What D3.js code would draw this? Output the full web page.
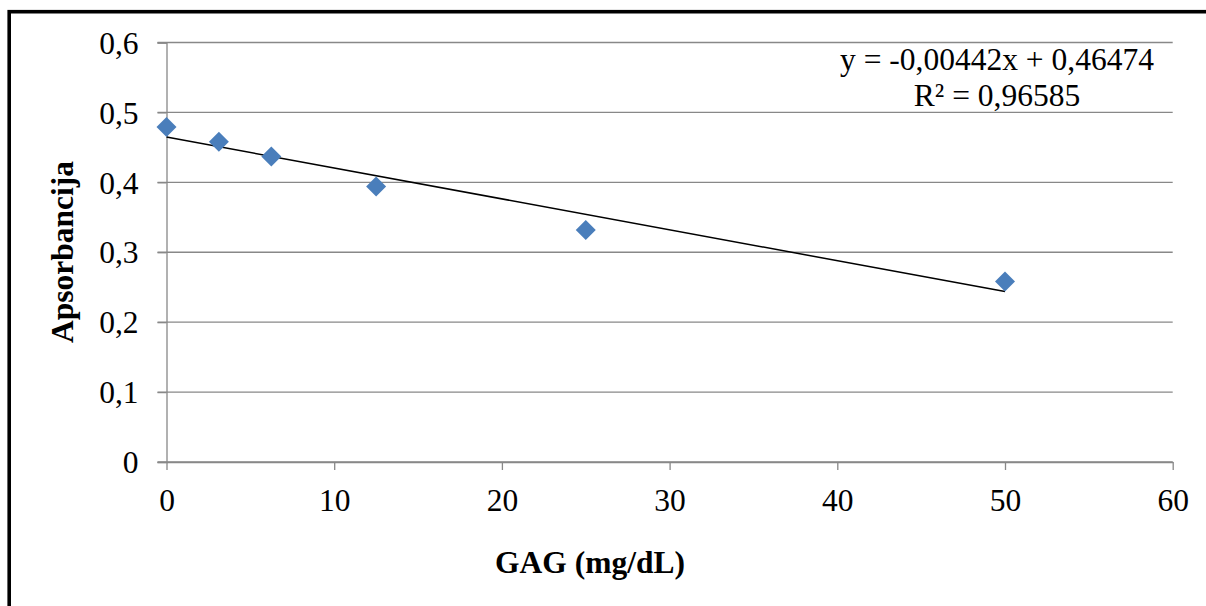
<!DOCTYPE html>
<html>
<head>
<meta charset="utf-8">
<script src="https://cdn.jsdelivr.net/npm/d3@7"></script>
<style>
  html, body { margin: 0; padding: 0; background: #fff; }
  svg text { font-family: "Liberation Serif", "Times New Roman", serif; fill: #000; }
</style>
</head>
<body>
<div id="chart"></div>
<script>
// GAG standard curve
const gagValues = [0, 3.125, 6.25, 12.5, 25, 50];
const absorbance = [0.479, 0.458, 0.437, 0.394, 0.332, 0.258];
const xTicks = [0, 10, 20, 30, 40, 50, 60];
const yTicks = [0, 0.1, 0.2, 0.3, 0.4, 0.5, 0.6];
const trendSlope = -0.00442;
const trendIntercept = 0.46474;
const equationLines = ["y = -0,00442x + 0,46474", "R² = 0,96585"];

const width = 1206;
const height = 606;
const fontSize = 31.5;
const serif = '"Liberation Serif", "Times New Roman", serif';
const gridColor = "#888888";

const svg = d3
  .select("#chart")
  .append("svg")
  .attr("width", width)
  .attr("height", height);

// chart border (runs off the right and bottom edge)
svg
  .append("rect")
  .attr("x", 9.2)
  .attr("y", 11.7)
  .attr("width", width + 20)
  .attr("height", height + 20)
  .attr("fill", "none")
  .attr("stroke", "#000")
  .attr("stroke-width", 3.6);

const x = d3.scaleLinear().domain([0, 60]).range([166.5, 1172.7]);
const y = d3.scaleLinear().domain([0, 0.6]).range([462, 42.5]);

const comma = (d) => String(d).replace(".", ",");

// horizontal grid
svg
  .append("g")
  .selectAll("line")
  .data(yTicks)
  .enter()
  .append("line")
  .attr("x1", x(0) - 9)
  .attr("x2", x(60))
  .attr("y1", (d) => y(d))
  .attr("y2", (d) => y(d))
  .attr("stroke", gridColor)
  .attr("stroke-width", 1.3);

// y axis
const yAxis = svg
  .append("g")
  .attr("transform", `translate(${x(0)},0)`)
  .call(
    d3
      .axisLeft(y)
      .tickValues(yTicks)
      .tickSize(9)
      .tickPadding(19)
      .tickFormat(comma)
  )
  .attr("font-family", null)
  .attr("font-size", null);
yAxis.select(".domain").attr("stroke", gridColor).attr("stroke-width", 1.3);
yAxis.selectAll(".tick line").attr("stroke", gridColor).attr("stroke-width", 1.3);
yAxis
  .selectAll("text")
  .style("font-family", serif)
  .style("font-size", fontSize + "px")
  .attr("dy", "0.34em");

// x axis
const xAxis = svg
  .append("g")
  .attr("transform", `translate(0,${y(0)})`)
  .call(
    d3
      .axisBottom(x)
      .tickValues(xTicks)
      .tickSize(8)
      .tickSizeOuter(0)
      .tickPadding(25)
      .tickFormat(comma)
  )
  .attr("font-family", null)
  .attr("font-size", null);
xAxis.select(".domain").attr("stroke", gridColor).attr("stroke-width", 1.3);
xAxis.selectAll(".tick line").attr("stroke", gridColor).attr("stroke-width", 1.3);
xAxis
  .selectAll("text")
  .style("font-family", serif)
  .style("font-size", fontSize + "px")
  .attr("dy", "0.5em");

// linear trend line
const trendData = [0, 50].map((g) => ({ g, a: trendIntercept + trendSlope * g }));
svg
  .append("path")
  .datum(trendData)
  .attr("fill", "none")
  .attr("stroke", "#000")
  .attr("stroke-width", 1.5)
  .attr(
    "d",
    d3
      .line()
      .x((d) => x(d.g))
      .y((d) => y(d.a))
  );

// diamond markers
const diamond = d3.symbol().type(d3.symbolSquare).size(200);
svg
  .append("g")
  .selectAll("path")
  .data(gagValues)
  .enter()
  .append("path")
  .attr("d", diamond)
  .attr(
    "transform",
    (d, i) => `translate(${x(d)},${y(absorbance[i])}) rotate(45)`
  )
  .attr("fill", "#4A7EBB");

// trend equation
svg
  .append("g")
  .selectAll("text")
  .data(equationLines)
  .enter()
  .append("text")
  .attr("x", 997)
  .attr("y", (d, i) => 70 + i * 36)
  .attr("text-anchor", "middle")
  .style("font-size", fontSize + "px")
  .text((d) => d);

// axis titles
svg
  .append("text")
  .attr("x", 590)
  .attr("y", 573)
  .attr("text-anchor", "middle")
  .style("font-size", fontSize + "px")
  .style("font-weight", "bold")
  .text("GAG (mg/dL)");

svg
  .append("text")
  .attr("transform", "translate(73,252) rotate(-90)")
  .attr("text-anchor", "middle")
  .style("font-size", fontSize + "px")
  .style("font-weight", "bold")
  .text("Apsorbancija");
</script>
</body>
</html>
